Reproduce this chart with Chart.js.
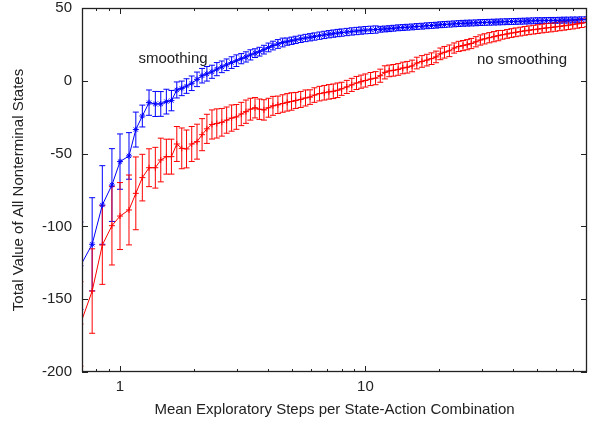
<!DOCTYPE html>
<html>
<head>
<meta charset="utf-8">
<script src="https://cdn.jsdelivr.net/npm/chart.js@4.4.0/dist/chart.umd.min.js"></script>
<style>
  html, body { margin: 0; padding: 0; background: #fff; }
  #wrap { width: 589px; height: 423px; }
</style>
</head>
<body>
<div id="wrap"><canvas id="chart-value" width="589" height="423"></canvas></div>
<script>
// Mean exploratory steps per state-action combination (x, log scale)
const steps = [
    0.69, 0.77, 0.847, 0.927, 1.0, 1.088, 1.16, 1.233, 1.313, 1.393,
    1.466, 1.545, 1.62, 1.704, 1.785, 1.867, 1.96, 2.06,
    2.16, 2.26, 2.37, 2.48, 2.6, 2.72, 2.85, 2.98, 3.12, 3.26,
    3.4, 3.55, 3.7, 3.86, 4.03, 4.2, 4.4, 4.6, 4.8, 5.0,
    5.2, 5.45, 5.7, 5.95, 6.2, 6.5, 6.8, 7.1, 7.4, 7.7,
    8.0, 8.4, 8.8, 9.2, 9.6, 10, 10.5, 11, 11.5, 12,
    12.5, 13, 13.6, 14.2, 14.8, 15.5, 16.2, 17, 17.8, 18.6,
    19.4, 20.2, 21, 22, 23, 24, 25, 26, 27, 28.2,
    29.4, 30.6, 32, 33.4, 34.8, 36.2, 37.8, 39.4, 41, 42.8,
    44.6, 46.4, 48.4, 50.4, 52.5, 54.6, 57, 59.4, 62, 64.6,
    67.2, 70, 73, 76, 80,
];

// "smoothing" series: mean and half-width of error bar
const smoothVals = [
    -127, -112.3, -85.3, -71.6, -55.5, -51.6, -33.5, -24.2, -15, -15.9,
    -15.9, -14.3, -13.6, -6.3, -5.2, -3.6, -1.7, 1.0,
    3.5, 4.8, 6.2, 8.0, 9.6, 11.0, 12.5, 13.8, 15.2, 16.4,
    17.8, 19.0, 20.0, 21.4, 22.9, 24.2, 25.3, 26.3, 26.9, 27.5,
    28.1, 28.8, 29.4, 29.9, 30.4, 31.0, 31.5, 32.0, 32.4, 32.8,
    33.1, 33.5, 33.9, 34.2, 34.5, 34.8, 35.0, 35.2, 35.4, 35.6,
    35.8, 36.1, 36.4, 36.6, 36.8, 37.0, 37.3, 37.5, 37.8, 38.0,
    38.2, 38.5, 38.7, 38.9, 39.1, 39.3, 39.5, 39.6, 39.7, 39.8,
    40.0, 40.1, 40.2, 40.3, 40.4, 40.5, 40.6, 40.7, 40.8, 40.9,
    41.0, 41.1, 41.2, 41.3, 41.3, 41.4, 41.5, 41.5, 41.6, 41.7,
    41.7, 41.8, 41.8, 41.9, 42.0,
];
const smoothErr = [
    30, 32, 27, 25, 19, 16, 12, 7.5, 8.7, 8.6,
    8.5, 8.5, 7, 5.5, 5, 5, 5, 5,
    5, 5, 4.5, 4.5, 4, 4, 4, 4, 3.5, 3.5,
    3.5, 3, 3, 3, 3, 3, 3, 3, 2.5, 2.5,
    2.5, 2.5, 2.5, 2.5, 2.5, 2.5, 2.5, 2.5, 2.5, 2.5,
    2.5, 2.5, 2.5, 2.5, 2.5, 2.5, 2.5, 2.5, 2, 2,
    2, 2, 2, 2, 2, 2, 2, 2, 2, 2,
    2, 2, 2, 2, 2, 2, 2, 2, 2, 2,
    2, 2, 2, 2, 2, 2, 2, 2, 2, 2,
    2, 2, 2, 2, 2, 2, 2, 2, 2, 2,
    2, 2, 2, 2, 2,
];

// "no smoothing" series
const noSmoothVals = [
    -167, -144.4, -112.8, -99.5, -92.9, -88.7, -77.3, -66.5, -59.7, -59.7,
    -54.4, -52.1, -52.1, -43.4, -46.4, -46.8, -43.4, -41.8,
    -37, -33, -30, -29.3, -28.5, -27, -25.6, -24.8, -22.8, -21.2,
    -19.5, -18.5, -19.5, -20, -18.5, -17.2, -16.5, -15.6, -14.8, -14.2,
    -13.5, -12.8, -11.8, -11.2, -9.8, -8.8, -8.2, -7.6, -7.2, -6.5,
    -5.5, -4.2, -2.8, -1.5, -0.6, 0.2, 1.2, 1.8, 3.5, 5.8,
    6.8, 7.2, 7.8, 8.8, 9.3, 10.2, 12.2, 13.3, 14.2, 15.2,
    16.4, 18.5, 19.6, 20.6, 22.5, 23.6, 24.2, 24.8, 25.6, 26.8,
    28.0, 28.8, 29.6, 30.3, 31.0, 31.6, 32.2, 32.8, 33.3, 33.8,
    34.3, 34.7, 35.1, 35.5, 35.9, 36.3, 36.6, 37.0, 37.4, 37.8,
    38.2, 38.6, 39.1, 39.6, 40.1,
];
const noSmoothErr = [
    29, 29, 27, 27, 23, 24, 25, 16, 13, 14,
    15, 12, 12, 12, 14, 13, 12, 12,
    11, 10, 10, 10, 9.5, 9, 9, 8.5, 8, 8,
    7.5, 7, 7, 7, 6.5, 6.5, 6, 6, 6, 6,
    5.5, 5.5, 5.5, 5, 5, 5, 5, 5, 5, 5,
    4.5, 4.5, 4.5, 4.5, 4.5, 4.5, 4.5, 4.5, 4.5, 4.5,
    4, 4, 4, 4, 4, 4, 4, 4, 4, 4,
    4, 4, 4, 4, 3.5, 3.5, 3.5, 3.5, 3.5, 3.5,
    3.5, 3.5, 3.5, 3.5, 3.5, 3, 3, 3, 3, 3,
    3, 3, 3, 3, 3, 3, 3, 3, 3, 3,
    3, 3, 3, 3, 3,
];

const xMajorTicks = [1, 10];
const xMinorTicks = [0.8, 0.9, 2, 3, 4, 5, 6, 7, 8, 9, 20, 30, 40, 50, 60, 70];
const yTicks = [-200, -150, -100, -50, 0, 50];

const FONT = 'Liberation Sans, Arial, Helvetica, sans-serif';

// vertical error bars with small caps, drawn under the lines/markers
const errorBars = {
    id: 'errorBars',
    beforeDatasetsDraw(chart) {
        const { ctx, chartArea: a, scales } = chart;
        ctx.save();
        ctx.beginPath();
        ctx.rect(a.left, a.top, a.right - a.left, a.bottom - a.top);
        ctx.clip();
        ctx.lineWidth = 1;
        [1, 0].forEach(i => {
            const ds = chart.data.datasets[i];
            ctx.strokeStyle = ds.borderColor;
            ctx.beginPath();
            ds.data.forEach((p, j) => {
                const px = scales.x.getPixelForValue(p.x);
                const yHi = scales.y.getPixelForValue(p.y + ds.errors[j]);
                const yLo = scales.y.getPixelForValue(p.y - ds.errors[j]);
                ctx.moveTo(px, yHi); ctx.lineTo(px, yLo);
                ctx.moveTo(px - 3, yHi); ctx.lineTo(px + 3, yHi);
                ctx.moveTo(px - 3, yLo); ctx.lineTo(px + 3, yLo);
            });
            ctx.stroke();
        });
        ctx.restore();
    },
};

// gnuplot-like frame with inward ticks on all four sides, plus the curve labels
const frameAndLabels = {
    id: 'frameAndLabels',
    afterDraw(chart) {
        const { ctx, chartArea: a, scales } = chart;
        ctx.save();
        ctx.strokeStyle = '#222';
        ctx.lineWidth = 1;
        ctx.beginPath();
        const tick = (v, len) => {
            const px = Math.round(scales.x.getPixelForValue(v)) + 0.5;
            ctx.moveTo(px, a.bottom); ctx.lineTo(px, a.bottom - len);
            ctx.moveTo(px, a.top); ctx.lineTo(px, a.top + len);
        };
        xMajorTicks.forEach(v => tick(v, 6));
        xMinorTicks.forEach(v => tick(v, 3));
        yTicks.forEach(v => {
            const py = Math.round(scales.y.getPixelForValue(v)) + 0.5;
            ctx.moveTo(a.left, py); ctx.lineTo(a.left + 6, py);
            ctx.moveTo(a.right, py); ctx.lineTo(a.right - 6, py);
        });
        ctx.stroke();
        ctx.lineWidth = 1.3;
        ctx.strokeRect(Math.round(a.left) + 0.5, Math.round(a.top) + 0.5,
            Math.round(a.right - a.left) - 1, Math.round(a.bottom - a.top) - 1);

        ctx.fillStyle = '#222';
        ctx.font = '15px ' + FONT;
        ctx.textAlign = 'center';
        ctx.textBaseline = 'middle';
        ctx.fillText('smoothing', 173, 59);
        ctx.fillText('no smoothing', 522, 60);
        ctx.restore();
    },
};

const toPoints = (vals) => vals.map((v, i) => ({ x: steps[i], y: v }));

new Chart(document.getElementById('chart-value'), {
    type: 'scatter',
    data: {
        datasets: [
            {
                label: 'no smoothing',
                data: toPoints(noSmoothVals),
                errors: noSmoothErr,
                showLine: true,
                borderColor: '#ff0000',
                backgroundColor: '#ff0000',
                borderWidth: 1,
                pointStyle: 'cross',
                pointRadius: 3,
                pointBorderWidth: 1,
                order: 0,
            },
            {
                label: 'smoothing',
                data: toPoints(smoothVals),
                errors: smoothErr,
                showLine: true,
                borderColor: '#0000ff',
                backgroundColor: '#0000ff',
                borderWidth: 1,
                pointStyle: 'star',
                pointRadius: 3,
                pointBorderWidth: 1,
                order: 1,
            },
        ],
    },
    options: {
        responsive: false,
        animation: false,
        layout: { autoPadding: false, padding: { top: 8, right: 2, left: 0, bottom: 0 } },
        plugins: {
            legend: { display: false },
            tooltip: { enabled: false },
        },
        scales: {
            x: {
                type: 'logarithmic',
                min: 0.7,
                max: 80,
                afterBuildTicks: scale => {
                    scale.ticks = xMajorTicks.concat(xMinorTicks)
                        .sort((p, q) => p - q)
                        .map(v => ({ value: v, major: xMajorTicks.includes(v) }));
                },
                afterFit: scale => { scale.height = 51; },
                // ticks themselves are drawn inward by the plugin; tickLength only offsets labels
                grid: { display: false, drawTicks: true, tickLength: 6 },
                border: { display: false },
                ticks: {
                    autoSkip: false,
                    maxRotation: 0,
                    padding: 0,
                    color: '#222',
                    font: { family: FONT, size: 15 },
                    callback: v => (xMajorTicks.includes(v) ? String(v) : ''),
                },
                title: {
                    display: true,
                    text: 'Mean Exploratory Steps per State-Action Combination',
                    color: '#222',
                    font: { family: FONT, size: 15, lineHeight: 1.2 },
                    padding: { top: 0, bottom: 4 },
                },
            },
            y: {
                min: -200,
                max: 50,
                afterBuildTicks: scale => {
                    scale.ticks = yTicks.map(v => ({ value: v }));
                },
                afterFit: scale => { scale.width = 82; },
                grid: { display: false, drawTicks: true, tickLength: 10 },
                border: { display: false },
                ticks: {
                    padding: 0,
                    color: '#222',
                    font: { family: FONT, size: 15, lineHeight: 1.0 },
                },
                title: {
                    display: true,
                    text: 'Total Value of All Nonterminal States',
                    color: '#222',
                    font: { family: FONT, size: 15, lineHeight: 1.2 },
                    padding: { top: 10, bottom: 0 },
                },
            },
        },
    },
    plugins: [errorBars, frameAndLabels],
});
</script>
</body>
</html>
